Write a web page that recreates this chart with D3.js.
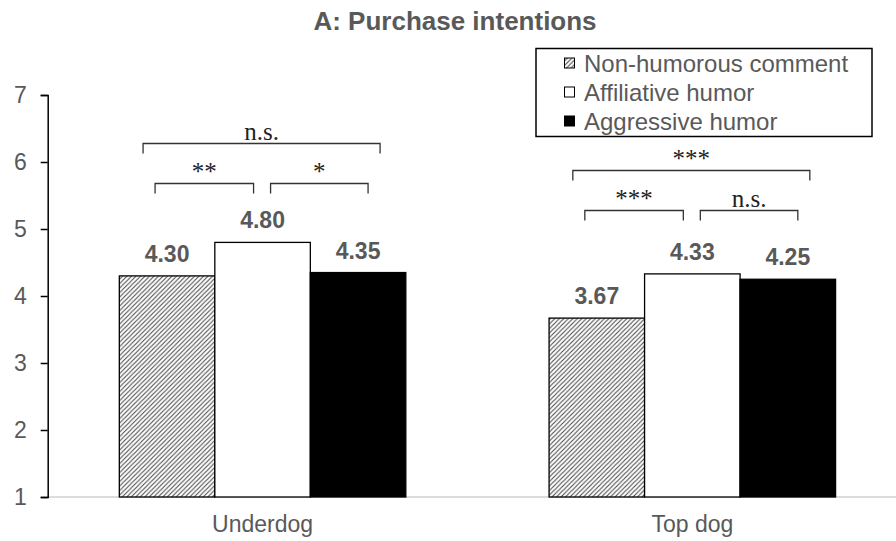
<!DOCTYPE html>
<html>
<head>
<meta charset="utf-8">
<script src="https://cdn.jsdelivr.net/npm/d3@7/dist/d3.min.js"></script>
<style>
  html, body { margin: 0; padding: 0; background: #fff; }
  svg { display: block; }
</style>
</head>
<body>
<svg id="chart" width="896" height="541"></svg>
<script>
// ---- data ----
const categories = ["Underdog", "Top dog"];
const seriesNames = ["Non-humorous comment", "Affiliative humor", "Aggressive humor"];
const nonHumorous = [4.30, 3.67];
const affiliative = [4.80, 4.33];
const aggressive = [4.35, 4.25];
const yTicks = [1, 2, 3, 4, 5, 6, 7];
const chartTitle = "A: Purchase intentions";
// significance annotations
const sigCategory = ["Underdog", "Underdog", "Underdog", "Top dog", "Top dog", "Top dog"];
const sigFrom = [0, 0, 1, 0, 0, 1];
const sigTo = [2, 1, 2, 2, 1, 2];
const sigLabel = ["n.s.", "**", "*", "***", "***", "n.s."];
const sigLevel = [6.28, 5.69, 5.69, 5.88, 5.28, 5.28];

const seriesValues = [nonHumorous, affiliative, aggressive];

(function () {
// ---- layout ----
const svg = d3.select("#chart");
const mLeft = 47.7, mRight = 907.2, mTop = 95, mBottom = 497;
const grey = "#595959";

const x0 = d3.scaleBand().domain(categories).range([mLeft, mRight]).paddingInner(0).paddingOuter(0);
const x1 = d3.scaleBand().domain(d3.range(seriesNames.length)).range([0, x0.bandwidth()]).paddingInner(0).paddingOuter(0.75);
const y = d3.scaleLinear().domain([1, 7]).range([mBottom, mTop]);

// hatch pattern
const defs = svg.append("defs");
const pat = defs.append("pattern").attr("id", "hatch").attr("patternUnits", "userSpaceOnUse")
  .attr("width", 4.5).attr("height", 4.5);
pat.append("rect").attr("width", 4.5).attr("height", 4.5).attr("fill", "#fff");
pat.append("path").attr("d", "M-1,1 L1,-1 M0,4.5 L4.5,0 M3.5,5.5 L5.5,3.5")
  .attr("stroke", "#4a4a4a").attr("stroke-width", 1.1);

const fills = ["url(#hatch)", "#ffffff", "#000000"];

// title
svg.append("text").attr("x", 455).attr("y", 30).attr("text-anchor", "middle")
  .attr("font-family", "Liberation Sans, Arial, sans-serif").attr("font-weight", "bold")
  .attr("font-size", 26).attr("fill", grey).text(chartTitle);

// baseline
svg.append("line").attr("x1", mLeft).attr("x2", mRight).attr("y1", mBottom).attr("y2", mBottom)
  .attr("stroke", "#d0d0d0").attr("stroke-width", 1.5);

// bars
const groups = svg.append("g").selectAll("g").data(categories).join("g")
  .attr("transform", d => `translate(${x0(d)},0)`);
groups.each(function(cat, ci) {
  const g = d3.select(this);
  seriesValues.forEach((vals, si) => {
    const v = vals[ci];
    g.append("rect")
      .attr("x", x1(si)).attr("width", x1.bandwidth())
      .attr("y", y(v)).attr("height", y(1) - y(v))
      .attr("fill", fills[si]).attr("stroke", "#000").attr("stroke-width", 1.3);
    g.append("text")
      .attr("x", x1(si) + x1.bandwidth() / 2).attr("y", y(v) - 14)
      .attr("text-anchor", "middle")
      .attr("font-family", "Liberation Sans, Arial, sans-serif").attr("font-weight", "bold")
      .attr("font-size", 23).attr("fill", grey).text(v.toFixed(2));
  });
});

// y axis
const yAxis = d3.axisLeft(y).tickValues(yTicks).tickSize(7).tickPadding(10).tickFormat(d3.format("d"));
const ya = svg.append("g").attr("transform", `translate(${mLeft},0)`).call(yAxis);
ya.select(".domain").attr("stroke", "#000").attr("stroke-width", 1.5);
ya.selectAll(".tick line").attr("stroke", "#000").attr("stroke-width", 1.5);
ya.selectAll(".tick text").attr("font-family", "Liberation Sans, Arial, sans-serif")
  .attr("font-size", 23).attr("fill", grey).attr("dx", "-4");

// x axis labels
const xAxis = d3.axisBottom(x0).tickSize(0).tickPadding(19);
const xa = svg.append("g").attr("transform", `translate(0,${mBottom})`).call(xAxis);
xa.select(".domain").remove();
xa.selectAll(".tick text").attr("font-family", "Liberation Sans, Arial, sans-serif")
  .attr("font-size", 23).attr("fill", grey);

// significance brackets
const offL = {"0-2": -24, "0-1": -12, "1-2": 8};
const offR = {"0-2": 22, "0-1": -9, "1-2": 10};
sigLabel.forEach((lab, i) => {
  const cat = sigCategory[i], a = sigFrom[i], b = sigTo[i];
  const key = a + "-" + b;
  const xa_ = x0(cat) + x1(a) + x1.bandwidth() / 2 + offL[key];
  const xb_ = x0(cat) + x1(b) + x1.bandwidth() / 2 + offR[key];
  const yy = Math.round(y(sigLevel[i])) + 0.5;
  svg.append("path")
    .attr("d", `M${xa_},${yy + 10} V${yy} H${xb_} V${yy + 10}`)
    .attr("fill", "none").attr("stroke", "#333").attr("stroke-width", 1.3);
  svg.append("text").attr("x", (xa_ + xb_) / 2).attr("y", yy - 4)
    .attr("text-anchor", "middle")
    .attr("font-family", "Liberation Serif, Times New Roman, serif")
    .attr("font-size", 25).attr("fill", "#222").text(lab);
});

// legend
const lg = svg.append("g");
lg.append("rect").attr("x", 536).attr("y", 48.5).attr("width", 336).attr("height", 88)
  .attr("fill", "#fff").attr("stroke", "#000").attr("stroke-width", 1.5);
const rowY = d3.scalePoint().domain(seriesNames).range([63, 121]);
seriesNames.forEach((name, si) => {
  lg.append("rect").attr("x", 564.5).attr("y", rowY(name) - 5).attr("width", 10).attr("height", 10)
    .attr("fill", fills[si]).attr("stroke", "#000").attr("stroke-width", 1);
  lg.append("text").attr("x", 584).attr("y", rowY(name) + 8.5)
    .attr("font-family", "Liberation Sans, Arial, sans-serif")
    .attr("font-size", 24).attr("fill", grey).text(name);
});
})();
</script>
</body>
</html>
